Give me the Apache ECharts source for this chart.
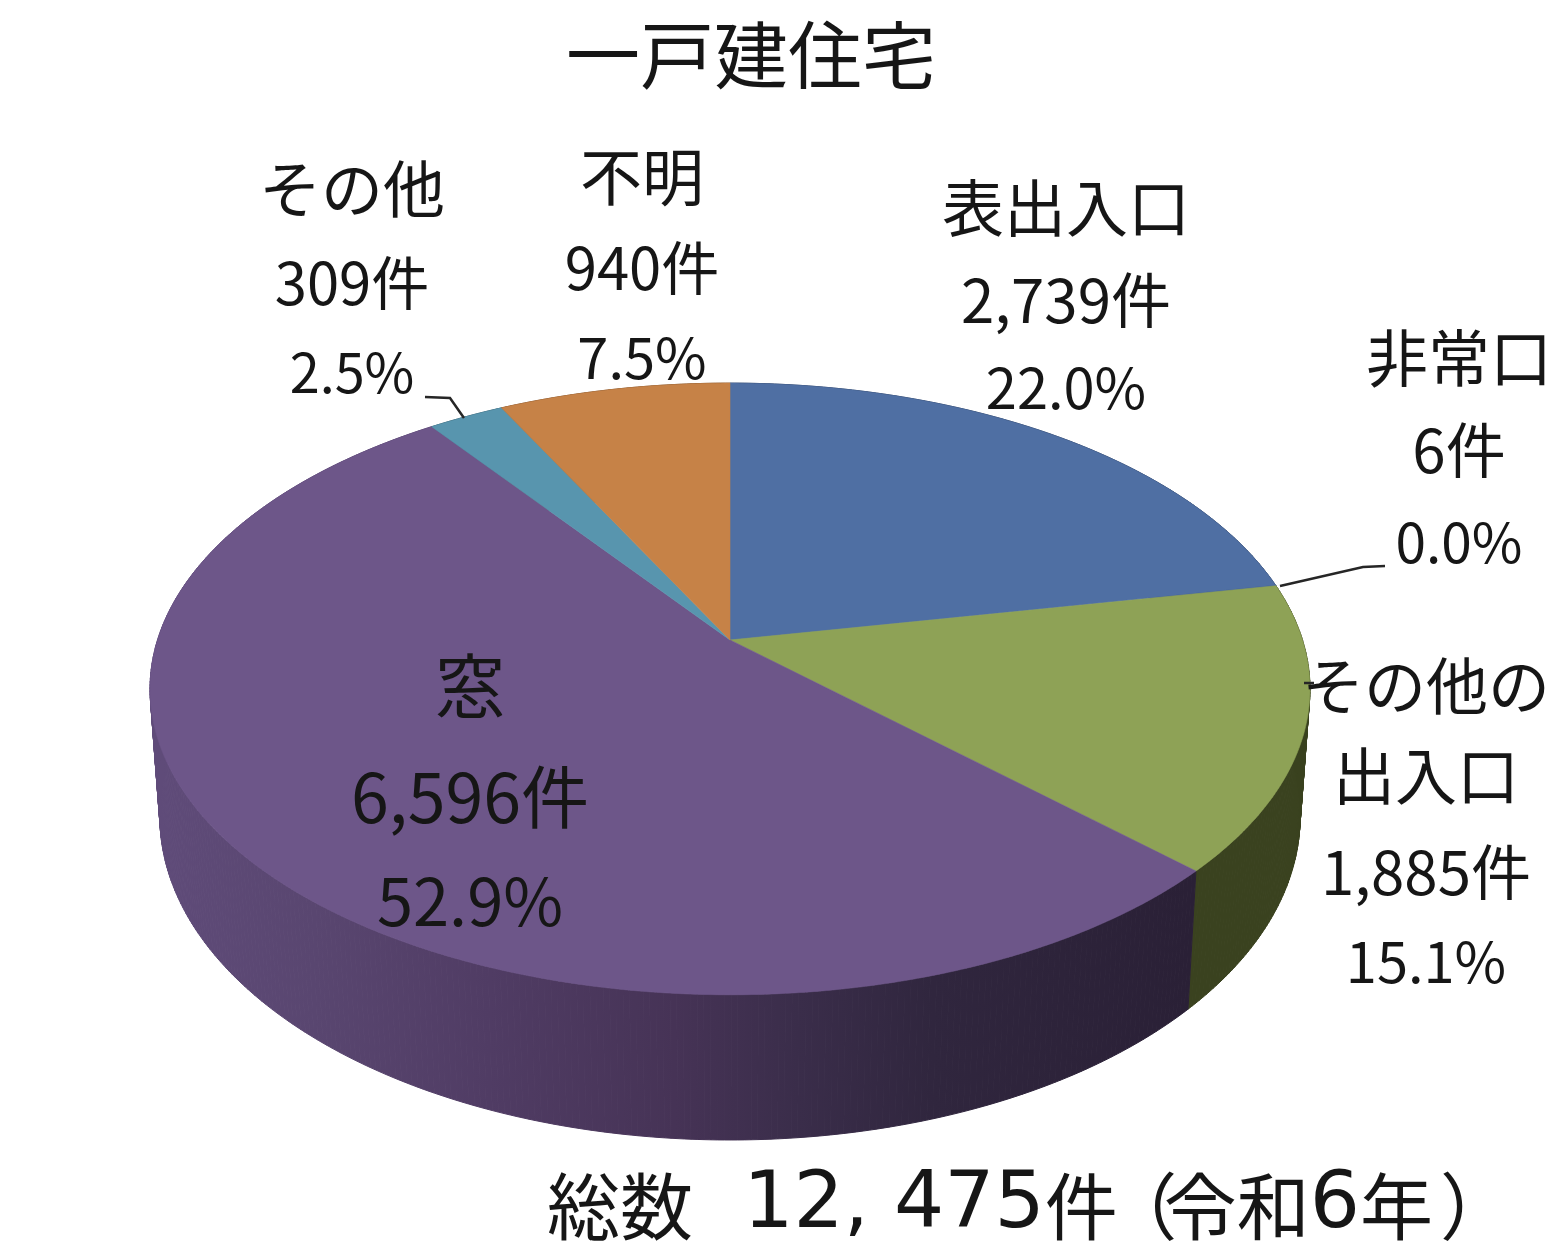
<!DOCTYPE html>
<html lang="ja">
<head>
<meta charset="utf-8">
<title>一戸建住宅</title>
<style>
html,body{margin:0;padding:0;background:#fff}
#chart{width:1562px;height:1246px;filter:blur(0.7px)}
</style>
<script src="https://cdn.jsdelivr.net/npm/echarts@6/dist/echarts.min.js"></script>
</head>
<body>
<div id="chart"></div>
<script>
// ---- data ----
const categories = ['表出入口', '非常口', 'その他の\n出入口', '窓', 'その他', '不明'];
const counts = [2739, 6, 1885, 6596, 309, 940];
const percents = ['22.0%', '0.0%', '15.1%', '52.9%', '2.5%', '7.5%'];
const titleText = '一戸建住宅';

// ---- styles ----
const topColors = ['#4f6fa3', '#4f6fa3', '#8ea256', '#6d5689', '#5895ae', '#c68247'];
const FONT = '"Noto Sans CJK JP","Noto Sans",sans-serif';
const TEXT = '#161616';
// label layout per category: centre x, y of every text line, sizes
const labelLayouts = [
  {x: 1066, ys: [208, 300, 388], sizes: [62, 60, 56]},
  {x: 1459, ys: [358, 450, 542], sizes: [62, 60, 55]},
  {x: 1426, ys: [686, 776, 872, 962], sizes: [62, 62, 60, 56]},
  {x: 470,  ys: [686, 797, 901], sizes: [70, 68, 65]},
  {x: 352,  ys: [189, 283, 372], sizes: [62, 58, 54]},
  {x: 642,  ys: [177, 268, 358], sizes: [62, 58, 56]}
];
const leaderLines = [
  [[1385, 566], [1363, 567], [1280, 586]],
  [[425, 397], [450, 398], [464, 418]],
  [[1304, 683], [1314, 683]]
];

// ---- tilted-disc projection ----
const apex = [730, 640];
const P = 0.16, A = 572.5, B = 298;
const total = counts.reduce((a, b) => a + b, 0);
const starts = [];
counts.reduce((acc, v, i) => { starts[i] = acc; return acc + v; }, 0);

function project(theta, bottom) {
  const X = Math.sin(theta), Y = Math.cos(theta), w = 1 + P * Y;
  let x = A * X / w, y = -B * Y / w;
  if (bottom) { x *= 0.983; y = y * 1.057 + 125; }
  return [apex[0] + x, apex[1] + y];
}
function arc(a0, a1, bottom) {
  const pts = [], n = Math.max(2, Math.ceil((a1 - a0) / 0.01));
  for (let i = 0; i <= n; i++) pts.push(project(a0 + (a1 - a0) * i / n, bottom));
  return pts;
}
function sliceAngles(api) {
  const s = api.value(1), v = api.value(0);
  return [s / total * 2 * Math.PI, (s + v) / total * 2 * Math.PI];
}

const wallFills = [
  '#2f4263',
  '#2f4263',
  '#3a421f',
  new echarts.graphic.LinearGradient(160, 0, 1190, 0, [
    {offset: 0, color: '#5f4b79'},
    {offset: 0.15, color: '#594670'},
    {offset: 0.32, color: '#503c64'},
    {offset: 0.5, color: '#463356'},
    {offset: 0.62, color: '#3a2d4a'},
    {offset: 0.75, color: '#30263e'},
    {offset: 1, color: '#2a2036'}
  ], true),
  '#345a69',
  '#7a4f2a'
];

const sliceData = counts.map((v, i) => [v, starts[i]]);

function renderWall(params, api) {
  const [a0, a1] = sliceAngles(api);
  const fill = wallFills[params.dataIndex];
  const t = arc(a0, a1, false), b = arc(a0, a1, true);
  const children = [];
  for (let i = 0; i < t.length - 1; i++) {
    children.push({
      type: 'polygon',
      shape: {points: [t[i], t[i + 1], b[i + 1], b[i]]},
      style: {fill: fill, stroke: fill, lineWidth: 1}
    });
  }
  return {type: 'group', children: children};
}
function renderTop(params, api) {
  const [a0, a1] = sliceAngles(api);
  const c = topColors[params.dataIndex];
  return {
    type: 'polygon',
    shape: {points: [apex].concat(arc(a0, a1, false))},
    style: {fill: c, stroke: c, lineWidth: 0.6}
  };
}
function renderLabel(params, api) {
  const i = params.dataIndex;
  const layout = labelLayouts[i];
  const lines = categories[i].split('\n')
    .concat([Number(api.value(0)).toLocaleString('en-US') + '件', percents[i]]);
  return {
    type: 'group',
    children: lines.map((t, k) => ({
      type: 'text',
      style: {
        text: t, x: layout.x, y: layout.ys[k],
        align: 'center', verticalAlign: 'middle',
        fill: TEXT, font: layout.sizes[k] + 'px ' + FONT
      }
    }))
  };
}
function renderLeader(params, api) {
  return {
    type: 'polyline',
    shape: {points: leaderLines[params.dataIndex]},
    style: {stroke: '#262626', lineWidth: 2.5, fill: 'none'}
  };
}

const chart = echarts.init(document.getElementById('chart'));
chart.setOption({
  animation: false,
  backgroundColor: '#ffffff',
  tooltip: {show: false},
  title: [
    {
      text: titleText, left: 746, top: 13, textAlign: 'center',
      textStyle: {fontFamily: FONT, fontSize: 74, fontWeight: 'normal', color: TEXT}
    },
    {
      text: '{k|総数}{d|  12, 475}{k|件}{p|（}{k|令和}{d|6}{k|年}{q|）}',
      left: 542, top: 1162, textAlign: 'left',
      textStyle: {
        fontFamily: FONT, fontWeight: 'normal', color: TEXT,
        rich: {
          k: {fontFamily: FONT, fontSize: 73, color: TEXT},
          p: {fontFamily: FONT, fontSize: 73, color: TEXT, width: 46, align: 'right'},
          q: {fontFamily: FONT, fontSize: 73, color: TEXT, padding: [0, 0, 0, 7]},
          d: {fontFamily: '"DejaVu Sans"', fontSize: 79, color: TEXT}
        }
      }
    }
  ],
  series: [
    {type: 'custom', coordinateSystem: 'none', silent: true, z: 1, renderItem: renderWall, data: sliceData},
    {type: 'custom', coordinateSystem: 'none', silent: true, z: 2, renderItem: renderTop, data: sliceData},
    {type: 'custom', coordinateSystem: 'none', silent: true, z: 3, renderItem: renderLeader, data: leaderLines.map((l, i) => [i])},
    {type: 'custom', coordinateSystem: 'none', silent: true, z: 4, renderItem: renderLabel, data: sliceData}
  ]
});
</script>
</body>
</html>
